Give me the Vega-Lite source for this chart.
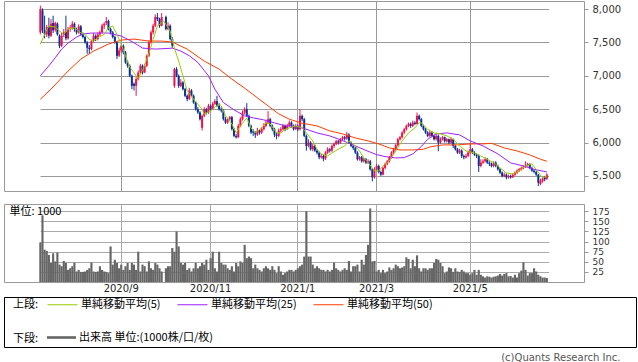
{
"$schema":"https://vega.github.io/schema/vega-lite/v6.json",
"padding":{"left":3,"top":0,"right":3,"bottom":0},
"background":"white",
"datasets":{"p":[
{"d":"2020-07-06","o":7650,"h":8050,"l":7620,"c":8000,"v":98,"m5":7475,"m25":7000,"m50":6650},
{"d":"2020-07-07","o":7980,"h":8010,"l":7640,"c":7680,"v":165},
{"d":"2020-07-08","o":7680,"h":7900,"l":7560,"c":7620,"v":80,"m5":7620},
{"d":"2020-07-09","o":7620,"h":7760,"l":7580,"c":7730,"v":77},
{"d":"2020-07-10","o":7740,"h":7870,"l":7560,"c":7600,"v":67,"m5":7745,"m25":7150},
{"d":"2020-07-13","o":7600,"h":7850,"l":7580,"c":7780,"v":47,"m50":6800},
{"d":"2020-07-14","o":7790,"h":7900,"l":7640,"c":7680,"v":71},
{"d":"2020-07-15","o":7690,"h":7810,"l":7660,"c":7790,"v":51,"m5":7730,"m25":7270},
{"d":"2020-07-16","o":7780,"h":7800,"l":7600,"c":7620,"v":73},
{"d":"2020-07-17","o":7600,"h":7620,"l":7415,"c":7450,"v":43,"m5":7670},
{"d":"2020-07-20","o":7450,"h":7640,"l":7430,"c":7600,"v":39,"m25":7400},
{"d":"2020-07-21","o":7610,"h":7700,"l":7580,"c":7650,"v":52,"m5":7620},
{"d":"2020-07-22","o":7660,"h":7900,"l":7530,"c":7560,"v":47},
{"d":"2020-07-27","o":7560,"h":7730,"l":7540,"c":7700,"v":30,"m5":7700,"m25":7490,"m50":7070},
{"d":"2020-07-28","o":7700,"h":7760,"l":7660,"c":7720,"v":34},
{"d":"2020-07-29","o":7720,"h":7820,"l":7690,"c":7780,"v":39},
{"d":"2020-07-30","o":7780,"h":7800,"l":7660,"c":7700,"v":48,"m5":7720},
{"d":"2020-07-31","o":7700,"h":7720,"l":7620,"c":7650,"v":26,"m25":7580},
{"d":"2020-08-03","o":7650,"h":7770,"l":7630,"c":7740,"v":30},
{"d":"2020-08-04","o":7740,"h":7760,"l":7600,"c":7620,"v":25,"m5":7645,"m50":7250},
{"d":"2020-08-05","o":7620,"h":7650,"l":7560,"c":7580,"v":25,"m25":7625},
{"d":"2020-08-06","o":7580,"h":7600,"l":7480,"c":7500,"v":26,"m5":7620},
{"d":"2020-08-07","o":7500,"h":7520,"l":7330,"c":7420,"v":30},
{"d":"2020-08-11","o":7420,"h":7460,"l":7325,"c":7400,"v":34,"m5":7545},
{"d":"2020-08-12","o":7400,"h":7540,"l":7380,"c":7520,"v":48,"m25":7640},
{"d":"2020-08-13","o":7520,"h":7640,"l":7500,"c":7600,"v":26,"m5":7520,"m50":7370},
{"d":"2020-08-14","o":7600,"h":7620,"l":7520,"c":7550,"v":25},
{"d":"2020-08-17","o":7550,"h":7650,"l":7530,"c":7620,"v":26,"m5":7570},
{"d":"2020-08-18","o":7620,"h":7680,"l":7590,"c":7650,"v":39},
{"d":"2020-08-19","o":7650,"h":7780,"l":7640,"c":7750,"v":30},
{"d":"2020-08-20","o":7750,"h":7800,"l":7700,"c":7780,"v":26,"m5":7620},
{"d":"2020-08-21","o":7790,"h":7880,"l":7760,"c":7820,"v":25},
{"d":"2020-08-24","o":7820,"h":7840,"l":7680,"c":7700,"v":22,"m5":7720,"m25":7640,"m50":7475},
{"d":"2020-08-25","o":7700,"h":7720,"l":7620,"c":7650,"v":88},
{"d":"2020-08-26","o":7650,"h":7670,"l":7560,"c":7580,"v":43,"m5":7745},
{"d":"2020-08-27","o":7580,"h":7600,"l":7480,"c":7500,"v":55},
{"d":"2020-08-28","o":7500,"h":7520,"l":7250,"c":7300,"v":47,"m5":7620},
{"d":"2020-08-31","o":7300,"h":7420,"l":7280,"c":7380,"v":34},
{"d":"2020-09-01","o":7380,"h":7480,"l":7350,"c":7450,"v":43,"m5":7475,"m25":7595,"m50":7535},
{"d":"2020-09-02","o":7450,"h":7470,"l":7320,"c":7350,"v":30},
{"d":"2020-09-03","o":7350,"h":7370,"l":7180,"c":7200,"v":39,"m5":7300},
{"d":"2020-09-04","o":7200,"h":7230,"l":7120,"c":7150,"v":47},
{"d":"2020-09-07","o":7150,"h":7170,"l":6980,"c":7000,"v":30,"m5":7130,"m25":7530},
{"d":"2020-09-08","o":7000,"h":7020,"l":6800,"c":6850,"v":47},
{"d":"2020-09-09","o":6880,"h":6900,"l":6780,"c":6850,"v":43,"m50":7550},
{"d":"2020-09-10","o":6850,"h":6980,"l":6700,"c":6950,"v":30,"m5":7000,"m25":7475},
{"d":"2020-09-11","o":6950,"h":7080,"l":6930,"c":7050,"v":75,"m5":6960},
{"d":"2020-09-14","o":7050,"h":7180,"l":7030,"c":7150,"v":26},
{"d":"2020-09-15","o":7150,"h":7170,"l":7020,"c":7050,"v":43,"m5":7080,"m25":7415},
{"d":"2020-09-16","o":7050,"h":7180,"l":7040,"c":7150,"v":39},
{"d":"2020-09-17","o":7150,"h":7320,"l":7130,"c":7300,"v":26},
{"d":"2020-09-18","o":7300,"h":7530,"l":7280,"c":7500,"v":51,"m5":7330,"m50":7520},
{"d":"2020-09-23","o":7500,"h":7680,"l":7480,"c":7650,"v":34},
{"d":"2020-09-24","o":7650,"h":7780,"l":7620,"c":7750,"v":30,"m5":7545},
{"d":"2020-09-25","o":7750,"h":7920,"l":7730,"c":7880,"v":47,"m25":7400},
{"d":"2020-09-28","o":7880,"h":7940,"l":7820,"c":7850,"v":43,"m5":7745},
{"d":"2020-09-29","o":7850,"h":7870,"l":7720,"c":7750,"v":34},
{"d":"2020-09-30","o":7750,"h":7940,"l":7740,"c":7880,"v":26,"m50":7520},
{"d":"2020-10-01","o":7880,"h":7880,"l":7880,"c":7880,"v":0,"m5":7820},
{"d":"2020-10-02","o":7880,"h":7900,"l":7680,"c":7700,"v":34,"m5":7770},
{"d":"2020-10-05","o":7700,"h":7800,"l":7680,"c":7750,"v":39,"m25":7410},
{"d":"2020-10-06","o":7750,"h":7770,"l":7530,"c":7550,"v":39,"m5":7670},
{"d":"2020-10-07","o":7550,"h":7580,"l":7420,"c":7450,"v":84,"m25":7415,"m50":7505},
{"d":"2020-10-08","o":6850,"h":7120,"l":6820,"c":7100,"v":75,"m5":7415},
{"d":"2020-10-09","o":7100,"h":7130,"l":6980,"c":7000,"v":125},
{"d":"2020-10-12","o":7000,"h":7020,"l":6820,"c":6850,"v":88,"m5":7220},
{"d":"2020-10-13","o":6850,"h":6950,"l":6830,"c":6900,"v":47,"m25":7370},
{"d":"2020-10-14","o":6900,"h":6920,"l":6780,"c":6800,"v":43,"m5":7000},
{"d":"2020-10-15","o":6800,"h":6820,"l":6680,"c":6700,"v":47},
{"d":"2020-10-16","o":6700,"h":6720,"l":6620,"c":6650,"v":30,"m5":6775,"m50":7400},
{"d":"2020-10-19","o":6650,"h":6820,"l":6640,"c":6780,"v":34,"m25":7300},
{"d":"2020-10-20","o":6780,"h":6800,"l":6680,"c":6700,"v":26},
{"d":"2020-10-21","o":6700,"h":6720,"l":6580,"c":6600,"v":34,"m5":6650},
{"d":"2020-10-22","o":6600,"h":6620,"l":6480,"c":6500,"v":47},
{"d":"2020-10-23","o":6500,"h":6530,"l":6430,"c":6450,"v":34,"m25":7200},
{"d":"2020-10-26","o":6450,"h":6470,"l":6330,"c":6350,"v":39},
{"d":"2020-10-27","o":6220,"h":6420,"l":6180,"c":6400,"v":47,"m5":6500},
{"d":"2020-10-28","o":6400,"h":6530,"l":6380,"c":6500,"v":43,"m5":6425,"m25":7080,"m50":7220},
{"d":"2020-10-29","o":6500,"h":6520,"l":6420,"c":6450,"v":55},
{"d":"2020-10-30","o":6450,"h":6580,"l":6430,"c":6550,"v":30,"m25":7000},
{"d":"2020-11-02","o":6550,"h":6570,"l":6480,"c":6500,"v":59,"m5":6475},
{"d":"2020-11-04","o":6500,"h":6610,"l":6490,"c":6580,"v":75},
{"d":"2020-11-05","o":6580,"h":6650,"l":6560,"c":6620,"v":34,"m25":6800},
{"d":"2020-11-06","o":6620,"h":6700,"l":6530,"c":6550,"v":26},
{"d":"2020-11-09","o":6550,"h":6590,"l":6480,"c":6500,"v":75,"m5":6580,"m50":7100},
{"d":"2020-11-10","o":6500,"h":6530,"l":6450,"c":6480,"v":47,"m5":6550},
{"d":"2020-11-11","o":6480,"h":6500,"l":6330,"c":6350,"v":43,"m25":6600},
{"d":"2020-11-12","o":6350,"h":6380,"l":6280,"c":6300,"v":43,"m5":6400},
{"d":"2020-11-13","o":6300,"h":6370,"l":6280,"c":6350,"v":34},
{"d":"2020-11-16","o":6350,"h":6400,"l":6330,"c":6380,"v":30},
{"d":"2020-11-17","o":6380,"h":6400,"l":6180,"c":6200,"v":39,"m5":6280,"m50":6950},
{"d":"2020-11-18","o":6200,"h":6220,"l":6080,"c":6100,"v":26,"m25":6490},
{"d":"2020-11-19","o":6100,"h":6130,"l":6060,"c":6080,"v":47,"m5":6145},
{"d":"2020-11-20","o":6080,"h":6280,"l":6070,"c":6250,"v":39},
{"d":"2020-11-24","o":6250,"h":6380,"l":6230,"c":6350,"v":51,"m5":6250},
{"d":"2020-11-25","o":6350,"h":6480,"l":6330,"c":6450,"v":47},
{"d":"2020-11-26","o":6450,"h":6530,"l":6420,"c":6500,"v":92,"m25":6400,"m50":6815},
{"d":"2020-11-27","o":6500,"h":6590,"l":6380,"c":6400,"v":59,"m5":6370},
{"d":"2020-11-30","o":6400,"h":6420,"l":6230,"c":6250,"v":63},
{"d":"2020-12-01","o":6250,"h":6270,"l":6130,"c":6150,"v":59,"m5":6220},
{"d":"2020-12-02","o":6170,"h":6200,"l":6100,"c":6150,"v":34,"m25":6370},
{"d":"2020-12-03","o":6150,"h":6170,"l":6070,"c":6120,"v":43,"m5":6145},
{"d":"2020-12-04","o":6120,"h":6220,"l":6100,"c":6180,"v":34,"m50":6670},
{"d":"2020-12-07","o":6180,"h":6200,"l":6120,"c":6150,"v":30},
{"d":"2020-12-08","o":6150,"h":6230,"l":6130,"c":6200,"v":26,"m5":6220},
{"d":"2020-12-09","o":6200,"h":6290,"l":6180,"c":6250,"v":34,"m25":6340},
{"d":"2020-12-10","o":6250,"h":6330,"l":6230,"c":6300,"v":39,"m5":6295},
{"d":"2020-12-11","o":6300,"h":6470,"l":6280,"c":6350,"v":34,"m50":6550},
{"d":"2020-12-14","o":6350,"h":6370,"l":6230,"c":6250,"v":30,"m5":6280},
{"d":"2020-12-15","o":6250,"h":6270,"l":6170,"c":6200,"v":39},
{"d":"2020-12-16","o":6200,"h":6220,"l":6080,"c":6120,"v":30,"m25":6295},
{"d":"2020-12-17","o":6120,"h":6150,"l":6050,"c":6100,"v":22,"m5":6145},
{"d":"2020-12-18","o":6100,"h":6210,"l":6080,"c":6180,"v":39,"m50":6430},
{"d":"2020-12-21","o":6180,"h":6230,"l":6150,"c":6200,"v":26,"m5":6145},
{"d":"2020-12-22","o":6200,"h":6280,"l":6180,"c":6250,"v":18},
{"d":"2020-12-23","o":6250,"h":6270,"l":6170,"c":6200,"v":22,"m5":6200,"m25":6250},
{"d":"2020-12-24","o":6200,"h":6280,"l":6190,"c":6250,"v":26},
{"d":"2020-12-25","o":6250,"h":6330,"l":6230,"c":6300,"v":30,"m5":6220,"m25":6250,"m50":6350},
{"d":"2020-12-28","o":6300,"h":6320,"l":6220,"c":6250,"v":30},
{"d":"2020-12-29","o":6250,"h":6270,"l":6180,"c":6200,"v":26},
{"d":"2020-12-30","o":6200,"h":6280,"l":6190,"c":6250,"v":30,"m5":6250},
{"d":"2021-01-04","o":6250,"h":6270,"l":6170,"c":6200,"v":34},
{"d":"2021-01-05","o":6200,"h":6500,"l":6180,"c":6400,"v":39},
{"d":"2021-01-06","o":6400,"h":6420,"l":6320,"c":6350,"v":43,"m5":6220,"m25":6220,"m50":6290},
{"d":"2021-01-07","o":6350,"h":6370,"l":6080,"c":6100,"v":63},
{"d":"2021-01-08","o":6100,"h":6120,"l":5880,"c":5950,"v":175,"m5":6145},
{"d":"2021-01-12","o":5950,"h":6050,"l":5930,"c":6000,"v":63},
{"d":"2021-01-13","o":6000,"h":6020,"l":5880,"c":5900,"v":63},
{"d":"2021-01-14","o":5900,"h":5980,"l":5870,"c":5950,"v":43,"m5":6025},
{"d":"2021-01-15","o":5950,"h":5970,"l":5860,"c":5880,"v":34},
{"d":"2021-01-18","o":5880,"h":5900,"l":5820,"c":5850,"v":39,"m5":5900,"m25":6145,"m50":6250},
{"d":"2021-01-19","o":5850,"h":5870,"l":5750,"c":5780,"v":34},
{"d":"2021-01-20","o":5780,"h":5830,"l":5760,"c":5800,"v":30,"m5":5830},
{"d":"2021-01-21","o":5800,"h":5820,"l":5720,"c":5760,"v":30},
{"d":"2021-01-22","o":5760,"h":5870,"l":5740,"c":5850,"v":26},
{"d":"2021-01-25","o":5850,"h":5930,"l":5830,"c":5900,"v":30,"m5":5800},
{"d":"2021-01-26","o":5900,"h":5920,"l":5850,"c":5880,"v":26,"m25":6100,"m50":6175},
{"d":"2021-01-27","o":5880,"h":5970,"l":5860,"c":5950,"v":30,"m5":5845},
{"d":"2021-01-28","o":5950,"h":6000,"l":5920,"c":5980,"v":48},
{"d":"2021-01-29","o":5980,"h":6040,"l":5960,"c":6020,"v":34},
{"d":"2021-02-01","o":6020,"h":6040,"l":5970,"c":6000,"v":30,"m5":5900},
{"d":"2021-02-02","o":6000,"h":6070,"l":5980,"c":6050,"v":26},
{"d":"2021-02-03","o":6050,"h":6100,"l":6030,"c":6080,"v":30,"m25":6030,"m50":6130},
{"d":"2021-02-04","o":6080,"h":6100,"l":6030,"c":6060,"v":34,"m5":5950},
{"d":"2021-02-05","o":6060,"h":6160,"l":6040,"c":6120,"v":30},
{"d":"2021-02-08","o":6120,"h":6140,"l":5980,"c":6000,"v":52,"m5":6025},
{"d":"2021-02-09","o":6000,"h":6020,"l":5930,"c":5950,"v":26},
{"d":"2021-02-10","o":5950,"h":5970,"l":5890,"c":5920,"v":39,"m5":5980},
{"d":"2021-02-12","o":5920,"h":5940,"l":5830,"c":5850,"v":39,"m25":5950,"m50":6070},
{"d":"2021-02-15","o":5850,"h":5870,"l":5730,"c":5750,"v":43},
{"d":"2021-02-16","o":5750,"h":5800,"l":5730,"c":5780,"v":26,"m5":5875},
{"d":"2021-02-17","o":5780,"h":5800,"l":5700,"c":5720,"v":55},
{"d":"2021-02-18","o":5720,"h":5770,"l":5700,"c":5750,"v":43,"m5":5770},
{"d":"2021-02-19","o":5750,"h":5770,"l":5680,"c":5700,"v":67},
{"d":"2021-02-22","o":5700,"h":5750,"l":5680,"c":5720,"v":92,"m5":5700,"m25":5870,"m50":6025},
{"d":"2021-02-24","o":5720,"h":5740,"l":5580,"c":5600,"v":182},
{"d":"2021-02-25","o":5600,"h":5620,"l":5420,"c":5480,"v":51},
{"d":"2021-02-26","o":5480,"h":5630,"l":5460,"c":5600,"v":52,"m5":5575},
{"d":"2021-03-01","o":5600,"h":5680,"l":5580,"c":5650,"v":26,"m25":5820},
{"d":"2021-03-02","o":5650,"h":5670,"l":5540,"c":5560,"v":30,"m5":5575,"m50":5980},
{"d":"2021-03-03","o":5560,"h":5580,"l":5500,"c":5520,"v":22},
{"d":"2021-03-04","o":5520,"h":5640,"l":5510,"c":5620,"v":30,"m5":5650},
{"d":"2021-03-05","o":5620,"h":5700,"l":5600,"c":5680,"v":22,"m25":5790},
{"d":"2021-03-08","o":5680,"h":5740,"l":5660,"c":5720,"v":26},
{"d":"2021-03-09","o":5720,"h":5800,"l":5700,"c":5780,"v":36,"m5":5725,"m50":5920},
{"d":"2021-03-10","o":5780,"h":5870,"l":5760,"c":5850,"v":30},
{"d":"2021-03-11","o":5850,"h":5920,"l":5830,"c":5900,"v":34},
{"d":"2021-03-12","o":5900,"h":5980,"l":5880,"c":5960,"v":43,"m5":5875,"m25":5770},
{"d":"2021-03-15","o":5960,"h":6070,"l":5940,"c":6050,"v":39},
{"d":"2021-03-16","o":6050,"h":6100,"l":6030,"c":6080,"v":34,"m50":5890},
{"d":"2021-03-17","o":6080,"h":6170,"l":6060,"c":6150,"v":36,"m5":6025},
{"d":"2021-03-18","o":6150,"h":6220,"l":6130,"c":6200,"v":39,"m25":5775},
{"d":"2021-03-19","o":6200,"h":6270,"l":6180,"c":6250,"v":61},
{"d":"2021-03-22","o":6250,"h":6300,"l":6230,"c":6280,"v":57,"m5":6145},
{"d":"2021-03-23","o":6280,"h":6300,"l":6220,"c":6250,"v":34},
{"d":"2021-03-24","o":6250,"h":6330,"l":6230,"c":6300,"v":55,"m25":5830,"m50":5890},
{"d":"2021-03-25","o":6300,"h":6320,"l":6260,"c":6280,"v":39,"m5":6220},
{"d":"2021-03-26","o":6280,"h":6450,"l":6270,"c":6400,"v":66},
{"d":"2021-03-29","o":6400,"h":6420,"l":6330,"c":6350,"v":34,"m5":6295},
{"d":"2021-03-30","o":6350,"h":6370,"l":6230,"c":6250,"v":26,"m5":6295,"m25":5940},
{"d":"2021-03-31","o":6250,"h":6270,"l":6180,"c":6200,"v":34,"m50":5900},
{"d":"2021-04-01","o":6200,"h":6220,"l":6130,"c":6150,"v":34},
{"d":"2021-04-02","o":6150,"h":6170,"l":6080,"c":6100,"v":30,"m5":6200,"m25":6050},
{"d":"2021-04-05","o":6100,"h":6180,"l":6080,"c":6150,"v":34,"m50":5935},
{"d":"2021-04-06","o":6150,"h":6170,"l":6080,"c":6100,"v":34},
{"d":"2021-04-07","o":6100,"h":6120,"l":6030,"c":6050,"v":47,"m5":6145},
{"d":"2021-04-08","o":6050,"h":6130,"l":6030,"c":6100,"v":57,"m25":6130},
{"d":"2021-04-09","o":6100,"h":6120,"l":5870,"c":6000,"v":55},
{"d":"2021-04-12","o":6000,"h":6080,"l":5980,"c":6050,"v":47,"m5":6130},
{"d":"2021-04-13","o":6050,"h":6100,"l":6030,"c":6080,"v":39,"m50":5965},
{"d":"2021-04-14","o":6080,"h":6090,"l":6000,"c":6020,"v":22},
{"d":"2021-04-15","o":6020,"h":6070,"l":6000,"c":6050,"v":26,"m5":6100,"m25":6145},
{"d":"2021-04-16","o":6050,"h":6060,"l":5980,"c":6000,"v":36},
{"d":"2021-04-19","o":6000,"h":6080,"l":5980,"c":6050,"v":34},
{"d":"2021-04-20","o":6050,"h":6060,"l":5920,"c":5950,"v":25,"m5":6050},
{"d":"2021-04-21","o":5950,"h":5970,"l":5880,"c":5900,"v":34},
{"d":"2021-04-22","o":5900,"h":5920,"l":5830,"c":5850,"v":26,"m50":5965},
{"d":"2021-04-23","o":5850,"h":5910,"l":5830,"c":5880,"v":25,"m5":5950,"m25":6115},
{"d":"2021-04-26","o":5880,"h":5900,"l":5770,"c":5800,"v":30},
{"d":"2021-04-27","o":5800,"h":5820,"l":5750,"c":5780,"v":26},
{"d":"2021-04-28","o":5780,"h":5830,"l":5760,"c":5800,"v":22,"m5":5875},
{"d":"2021-04-30","o":5800,"h":5880,"l":5780,"c":5850,"v":22},
{"d":"2021-05-06","o":5850,"h":6000,"l":5830,"c":5900,"v":18,"m25":6025,"m50":5980},
{"d":"2021-05-07","o":5900,"h":5920,"l":5830,"c":5850,"v":22},
{"d":"2021-05-10","o":5850,"h":5870,"l":5800,"c":5820,"v":30,"m5":5845},
{"d":"2021-05-11","o":5820,"h":5840,"l":5770,"c":5800,"v":18},
{"d":"2021-05-12","o":5800,"h":5820,"l":5560,"c":5650,"v":30},
{"d":"2021-05-13","o":5650,"h":5750,"l":5630,"c":5700,"v":18,"m5":5800},
{"d":"2021-05-14","o":5700,"h":5750,"l":5680,"c":5720,"v":14,"m25":5950,"m50":5980},
{"d":"2021-05-17","o":5720,"h":5780,"l":5700,"c":5750,"v":11},
{"d":"2021-05-18","o":5750,"h":5770,"l":5680,"c":5700,"v":14,"m5":5750},
{"d":"2021-05-19","o":5700,"h":5720,"l":5650,"c":5680,"v":13},
{"d":"2021-05-20","o":5680,"h":5700,"l":5630,"c":5650,"v":11,"m50":5990},
{"d":"2021-05-21","o":5650,"h":5720,"l":5630,"c":5700,"v":13,"m5":5700},
{"d":"2021-05-24","o":5700,"h":5720,"l":5630,"c":5650,"v":14},
{"d":"2021-05-25","o":5650,"h":5670,"l":5580,"c":5600,"v":16,"m25":5830},
{"d":"2021-05-26","o":5600,"h":5620,"l":5530,"c":5550,"v":20,"m5":5620},
{"d":"2021-05-27","o":5550,"h":5570,"l":5480,"c":5500,"v":16},
{"d":"2021-05-28","o":5500,"h":5550,"l":5480,"c":5520,"v":20,"m50":5920},
{"d":"2021-05-31","o":5520,"h":5540,"l":5450,"c":5480,"v":22,"m5":5545},
{"d":"2021-06-01","o":5480,"h":5520,"l":5460,"c":5500,"v":14},
{"d":"2021-06-02","o":5500,"h":5520,"l":5460,"c":5480,"v":15,"m25":5695},
{"d":"2021-06-03","o":5480,"h":5540,"l":5470,"c":5520,"v":11,"m5":5530},
{"d":"2021-06-04","o":5520,"h":5570,"l":5500,"c":5550,"v":18},
{"d":"2021-06-07","o":5550,"h":5600,"l":5530,"c":5580,"v":11,"m50":5875},
{"d":"2021-06-08","o":5580,"h":5620,"l":5560,"c":5600,"v":22,"m5":5575},
{"d":"2021-06-09","o":5600,"h":5640,"l":5580,"c":5620,"v":28},
{"d":"2021-06-10","o":5620,"h":5660,"l":5600,"c":5640,"v":49,"m25":5650},
{"d":"2021-06-11","o":5640,"h":5720,"l":5620,"c":5660,"v":30,"m5":5650},
{"d":"2021-06-14","o":5660,"h":5700,"l":5640,"c":5680,"v":16},
{"d":"2021-06-15","o":5680,"h":5690,"l":5600,"c":5620,"v":22,"m50":5815},
{"d":"2021-06-16","o":5620,"h":5640,"l":5560,"c":5580,"v":22,"m5":5680},
{"d":"2021-06-17","o":5580,"h":5600,"l":5540,"c":5560,"v":34,"m25":5600},
{"d":"2021-06-18","o":5560,"h":5580,"l":5500,"c":5520,"v":26,"m5":5600},
{"d":"2021-06-21","o":5520,"h":5530,"l":5350,"c":5400,"v":18},
{"d":"2021-06-22","o":5380,"h":5460,"l":5360,"c":5430,"v":14,"m50":5750},
{"d":"2021-06-23","o":5420,"h":5480,"l":5400,"c":5460,"v":11,"m5":5470},
{"d":"2021-06-24","o":5480,"h":5500,"l":5420,"c":5450,"v":11},
{"d":"2021-06-25","o":5460,"h":5540,"l":5440,"c":5520,"v":10,"m5":5500,"m25":5560,"m50":5720}
]},
"title":{"text":"(c)Quants Research Inc.","orient":"bottom","anchor":"end","offset":5,"dx":-16,"font":"DejaVu Sans","fontSize":10,"fontWeight":"normal","color":"#555555"},
"vconcat":[
{"vconcat":[
{"width":580,"height":190,"data":{"name":"p"},
"encoding":{"x":{"field":"d","type":"ordinal","scale":{"paddingInner":0,"paddingOuter":0,"range":[35.3,543.9]},
"axis":{"values":["2020-09-01","2020-11-02","2021-01-04","2021-03-01","2021-05-06"],"labels":false,"ticks":false,"domain":false,"grid":true,"bandPosition":0.5,"title":null,"gridColor":"#999999"}}},
"layer":[
{"mark":{"type":"rule","strokeWidth":1},
"encoding":{"y":{"field":"l","type":"quantitative","scale":{"domain":[5275,8120],"nice":false,"zero":false},
"axis":{"orient":"right","values":[5500,6000,6500,7000,7500,8000],"labelExpr":"format(datum.value, ',')","labelOverlap":false,"title":null,"tickSize":4,"tickColor":"#999999","domain":false,"gridColor":"#999999","labelFont":"DejaVu Sans","labelFontSize":10,"labelColor":"#333333","labelPadding":4}},
"y2":{"field":"h"},
"color":{"condition":{"test":"datum.c >= datum.o","value":"#f5104a"},"value":"#0a3296"}}},
{"mark":{"type":"bar","size":2},
"encoding":{"y":{"field":"o","type":"quantitative","scale":{"domain":[5275,8120],"nice":false,"zero":false},
"axis":{"orient":"right","values":[5500,6000,6500,7000,7500,8000],"labelExpr":"format(datum.value, ',')","labelOverlap":false,"title":null,"tickSize":4,"tickColor":"#999999","domain":false,"gridColor":"#999999","labelFont":"DejaVu Sans","labelFontSize":10,"labelColor":"#333333","labelPadding":4}},"y2":{"field":"c"},
"color":{"condition":{"test":"datum.c >= datum.o","value":"#f5104a"},"value":"#0a3296"}}},
{"transform":[{"filter":"isValid(datum.m50)"}],"mark":{"type":"line","strokeWidth":1},
"encoding":{"y":{"field":"m50","type":"quantitative","scale":{"domain":[5275,8120],"nice":false,"zero":false},
"axis":{"orient":"right","values":[5500,6000,6500,7000,7500,8000],"labelExpr":"format(datum.value, ',')","labelOverlap":false,"title":null,"tickSize":4,"tickColor":"#999999","domain":false,"gridColor":"#999999","labelFont":"DejaVu Sans","labelFontSize":10,"labelColor":"#333333","labelPadding":4}},
"stroke":{"datum":"単純移動平均(50)","type":"nominal","scale":{"domain":["単純移動平均(5)","単純移動平均(25)","単純移動平均(50)"],"range":["#99cc00","#9f1fff","#ff3c00"]},
"legend":{"title":"上段:","orient":"none","legendX":9,"legendY":288,"direction":"horizontal"}}}},
{"transform":[{"filter":"isValid(datum.m25)"}],"mark":{"type":"line","strokeWidth":1},
"encoding":{"y":{"field":"m25","type":"quantitative","scale":{"domain":[5275,8120],"nice":false,"zero":false},
"axis":{"orient":"right","values":[5500,6000,6500,7000,7500,8000],"labelExpr":"format(datum.value, ',')","labelOverlap":false,"title":null,"tickSize":4,"tickColor":"#999999","domain":false,"gridColor":"#999999","labelFont":"DejaVu Sans","labelFontSize":10,"labelColor":"#333333","labelPadding":4}},
"stroke":{"datum":"単純移動平均(25)","type":"nominal"}}},
{"transform":[{"filter":"isValid(datum.m5)"}],"mark":{"type":"line","strokeWidth":1},
"encoding":{"y":{"field":"m5","type":"quantitative","scale":{"domain":[5275,8120],"nice":false,"zero":false},
"axis":{"orient":"right","values":[5500,6000,6500,7000,7500,8000],"labelExpr":"format(datum.value, ',')","labelOverlap":false,"title":null,"tickSize":4,"tickColor":"#999999","domain":false,"gridColor":"#999999","labelFont":"DejaVu Sans","labelFontSize":10,"labelColor":"#333333","labelPadding":4}},
"stroke":{"datum":"単純移動平均(5)","type":"nominal"}}}
]},
{"width":580,"height":78,"data":{"name":"p"},
"mark":{"type":"bar","width":{"band":1}},
"encoding":{
"x":{"field":"d","type":"ordinal","scale":{"paddingInner":0,"paddingOuter":0,"range":[35.3,543.9]},
"axis":{"values":["2020-09-01","2020-11-02","2021-01-04","2021-03-01","2021-05-06"],"labelExpr":"slice(datum.label,0,4) + '/' + toNumber(slice(datum.label,5,7))","labelAngle":0,"ticks":false,"domain":false,"grid":true,"bandPosition":0.5,"title":null,"gridColor":"#aaaaaa","labelFont":"DejaVu Sans","labelFontSize":10,"labelColor":"#222222","labelPadding":1}},
"y":{"field":"v","type":"quantitative","scale":{"domain":[0,193],"nice":false},
"axis":{"orient":"right","values":[25,50,75,100,125,150,175],"labelOverlap":false,"title":"単位: 1000","titleAngle":0,"titleX":-575,"titleY":7,"titleAlign":"left","titleBaseline":"middle","titleFont":"Noto Sans CJK JP","titleFontSize":11,"titleFontWeight":"normal","titleColor":"#000000","tickSize":4,"tickColor":"#999999","domain":false,"gridColor":"#aaaaaa","labelFont":"DejaVu Sans","labelFontSize":9,"labelColor":"#333333","labelPadding":4}},
"fill":{"datum":"出来高 単位:(1000株/口/枚)","type":"nominal","scale":{"range":["#666666"]},
"legend":{"title":"下段:","orient":"none","legendX":9,"legendY":322,"symbolType":"M-1,-0.09H1V0.09H-1Z","symbolSize":841,"symbolStrokeWidth":0}}}}
],"spacing":11},
{"width":632,"height":50,"data":{"values":[]},"mark":"point","encoding":{},"view":{"stroke":"#000000","strokeWidth":1}}
],
"spacing":2,
"config":{
"view":{"stroke":"#999999"},
"legend":{"titleOrient":"left","titleAnchor":"middle","titleBaseline":"top","titleFont":"Noto Sans CJK JP","titleFontSize":11,"titleFontWeight":"normal","titleColor":"#000000","titlePadding":8,"labelFont":"Noto Sans CJK JP","labelFontSize":11,"labelColor":"#000000","labelOffset":3,"symbolType":"stroke","symbolSize":900,"symbolStrokeWidth":1,"columnPadding":14,"padding":0,"labelLimit":300}
}
}
